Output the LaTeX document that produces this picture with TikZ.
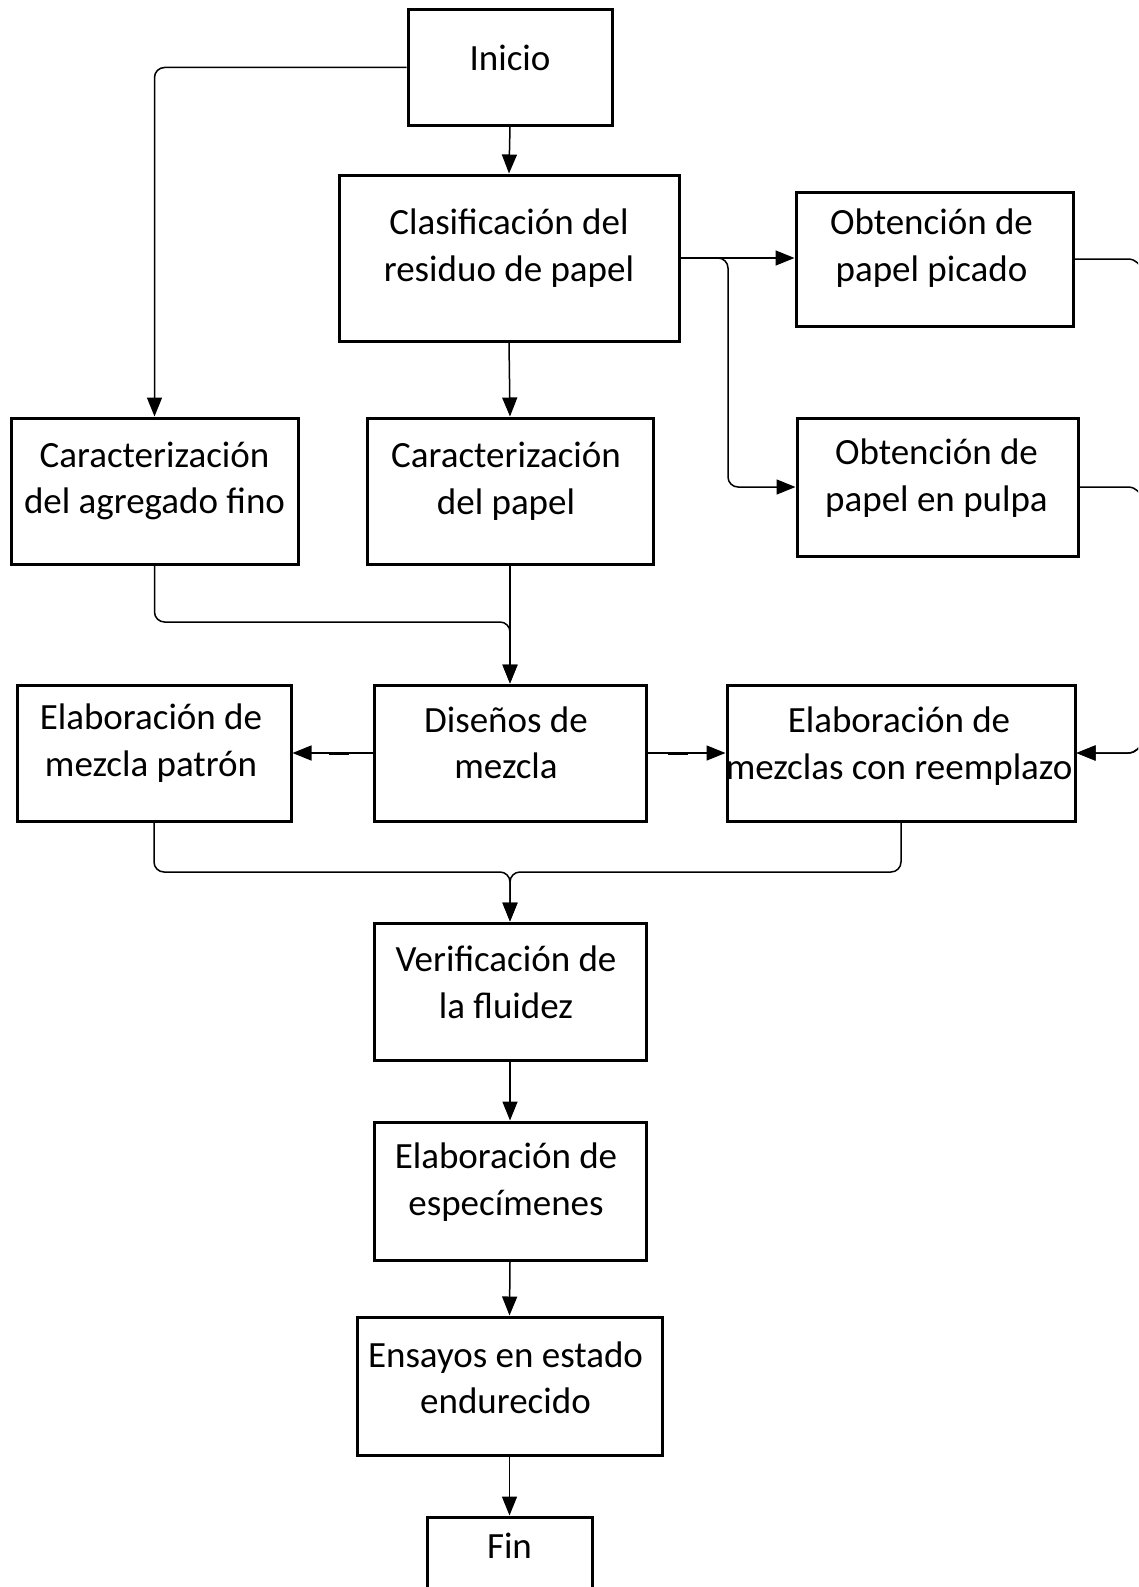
\documentclass[tikz,border=0pt]{standalone}
\usepackage{fontspec}
\setmainfont{Carlito}
\usetikzlibrary{arrows.meta,calc}
\begin{document}
\begin{tikzpicture}[x=1pt,y=-1pt,
  box/.style={draw, line width=3pt, rectangle, inner sep=0pt},
  lbl/.style={align=center, font=\fontsize{37}{46.5}\selectfont, inner sep=0pt},
  conn/.style={line width=1.5pt, rounded corners=10pt},
  arr/.style={conn, -{Triangle[length=19pt,width=15pt]}}]
\useasboundingbox (0,0) rectangle (1138,1587);
\clip (0,0) rectangle (1138,1587);
% boxes
\node[box, minimum width=204pt, minimum height=115pt] (ini) at (510,67.5) {};
\node[lbl] (iniT) at ([yshift=9.5pt]ini.center) {Inicio};
\node[box, minimum width=340pt, minimum height=166pt] (cla) at (509,258) {};
\node[lbl] (claT) at ([yshift=10pt]cla.center) {Clasificación del\\residuo de papel};
\node[box, minimum width=277pt, minimum height=134pt] (pic) at (934.5,259) {};
\node[lbl] (picT) at ([xshift=-3pt,yshift=11pt]pic.center) {Obtención de\\papel picado};
\node[box, minimum width=281pt, minimum height=138pt] (pul) at (937.5,487) {};
\node[lbl] (pulT) at ([xshift=-1pt,yshift=9pt]pul.center) {Obtención de\\papel en pulpa};
\node[box, minimum width=287pt, minimum height=146pt] (agr) at (154.5,491) {};
\node[lbl] (agrT) at ([yshift=10pt]agr.center) {Caracterización\\del agregado fino};
\node[box, minimum width=286pt, minimum height=146pt] (pap) at (510,491) {};
\node[lbl] (papT) at ([xshift=-4pt,yshift=10pt]pap.center) {Caracterización\\del papel};
\node[box, minimum width=272pt, minimum height=136pt] (dis) at (510,753) {};
\node[lbl] (disT) at ([xshift=-4pt,yshift=10pt]dis.center) {Diseños de\\mezcla};
\node[box, minimum width=274pt, minimum height=136pt] (pat) at (154,753) {};
\node[lbl] (patT) at ([xshift=-3pt,yshift=10pt]pat.center) {Elaboración de\\mezcla patrón};
\node[box, minimum width=348pt, minimum height=136pt] (ree) at (901,753) {};
\node[lbl] (reeT) at ([xshift=-2pt,yshift=7pt]ree.center) {Elaboración de\\mezclas con reemplazo};
\node[box, minimum width=272pt, minimum height=137pt] (ver) at (510,991.5) {};
\node[lbl] (verT) at ([xshift=-4pt,yshift=9pt]ver.center) {Verificación de\\la fluidez};
\node[box, minimum width=272pt, minimum height=138pt] (esp) at (510,1191) {};
\node[lbl] (espT) at ([xshift=-4pt,yshift=9pt]esp.center) {Elaboración de\\especímenes};
\node[box, minimum width=305pt, minimum height=138pt] (ens) at (509.5,1386) {};
\node[lbl] (ensT) at ([xshift=-4pt,yshift=8pt]ens.center) {Ensayos en estado\\endurecido};
\node[box, minimum width=165pt, minimum height=150pt] (fin) at (509.5,1592) {};
\node[lbl] (finT) at (509.5,1546) {Fin};
% helper coordinates
\coordinate (bcol) at (728,0);
\coordinate (rcol) at (1142,0);
\coordinate (m1) at (0,622);
\coordinate (m2) at (0,872);
% connectors
\draw[arr] (ini.south) -- (cla.north);
\draw[arr] (ini.west) -| (agr.north);
\draw[arr] (cla.south) -- (pap.north);
\draw[arr] (cla.east) -- (pic.west |- cla.east);
\draw[arr] (cla.east) -| (bcol |- pul.west) -- (pul.west);
\draw[arr, rounded corners=14pt] (pic.east) -| (rcol |- ree.east) -- (ree.east);
\draw[arr, rounded corners=14pt] (pul.east) -| (rcol |- ree.east) -- (ree.east);
\draw[arr] (agr.south) -- (agr.south |- m1) -| (dis.north);
\draw[arr] (pap.south) -- (dis.north);
\draw[arr] (dis.west) -- (pat.east);
\draw[arr] (dis.east) -- (ree.west);
\draw[line width=3pt] (329,753) -- (349,753);
\draw[line width=3pt] (668,753) -- (688,753);
\draw[arr] (pat.south) -- (pat.south |- m2) -| (ver.north);
\draw[arr] (ree.south) -- (ree.south |- m2) -| (ver.north);
\draw[arr] (ver.south) -- (esp.north);
\draw[arr] (esp.south) -- (ens.north);
\draw[arr] (ens.south) -- (fin.north);
\end{tikzpicture}
\end{document}
